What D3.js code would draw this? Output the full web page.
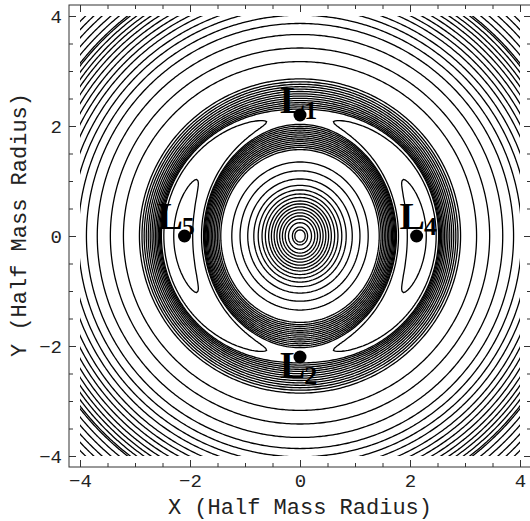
<!DOCTYPE html>
<html>
<head>
<meta charset="utf-8">
<script src="https://cdn.jsdelivr.net/npm/d3@7"></script>
<style>
    body { margin: 0; background: #fff; }
    svg { display: block; }
    .tick text { font-family: "Liberation Mono", "Courier New", monospace; font-size: 19px; fill: #222; }
    .tick line { stroke: #333; }
    .axis-title { font-family: "Liberation Mono", "Courier New", monospace; font-size: 22px; fill: #222; }
    .lp-label { font-family: "Liberation Serif", "Times New Roman", serif; font-weight: bold; fill: #000; }
</style>
</head>
<body>
<svg id="chart" width="530" height="521"></svg>
<script>
// where the contour lines cross the axes / plot edge (half mass radii)
const ringRadiiX = [0.14, 0.21, 0.27, 0.32, 0.37, 0.42, 0.47, 0.52, 0.57, 0.63, 0.69, 0.76, 0.84, 0.95, 1.09, 1.24];
const bandRadiiY = [1.57, 1.61, 1.645, 1.68, 1.715, 1.75, 1.785, 1.82, 1.855, 1.89, 1.925, 1.96, 1.995, 2.03];
const lobeRadiiX = [1.79, 1.95];
const cornerEdgeY = [3.14, 3.29, 3.44, 3.60, 3.75, 3.90];

// lagrange points
const lagrangeNames = ["1", "2", "4", "5"];
const lagrangeX = [0, 0, 2.12, -2.1];
const lagrangeY = [2.2, -2.2, 0, 0];

const majorTicks = [-4, -2, 0, 2, 4];
const minorTicks = [-4, -3.5, -3, -2.5, -2, -1.5, -1, -0.5, 0, 0.5, 1, 1.5, 2, 2.5, 3, 3.5, 4];

// plummer sphere plus a quadrupole bar along y, seen in the rotating frame
const model = {mass: 1, core: 0.77, barScale: 0.7, barStrength: 0.04};

function phi(x, y) {
    const r2 = x * x + y * y;
    const b2 = model.barScale * model.barScale;
    return -model.mass / Math.sqrt(model.core * model.core + r2)
        - model.barStrength * (y * y - x * x) / ((b2 + r2) * (b2 + r2));
}

// pattern speed from the L4 position (force balance on the x axis)
const h = 1e-4;
const omega2 = (phi(lagrangeX[2] + h, 0) - phi(lagrangeX[2] - h, 0)) / (2 * h) / lagrangeX[2];

function phiEff(x, y) {
    return phi(x, y) - 0.5 * omega2 * (x * x + y * y);
}

const levels = [].concat(
    ringRadiiX.map(r => phiEff(r, 0)),
    bandRadiiY.map(r => phiEff(0, r)),
    lobeRadiiX.map(r => phiEff(r, 0)),
    cornerEdgeY.map(v => phiEff(4, v))
);

const margin = {top: 5, left: 69};
const size = 462;

const svg = d3.select("#chart");

const x = d3.scaleLinear().domain([-4.2, 4.2]).range([margin.left, margin.left + size]);
const y = d3.scaleLinear().domain([-4.2, 4.2]).range([margin.top + size, margin.top]);

// sample the field a bit past the plotted square, clip later
const g0 = -4.4, step = 0.04;
const n = Math.round((4.4 - g0) / step) + 1;
const values = new Float64Array(n * n);
for (let j = 0; j < n; j++) {
    for (let i = 0; i < n; i++) {
        values[j * n + i] = phiEff(g0 + i * step, g0 + j * step);
    }
}

const contours = d3.contours().size([n, n]);
const proj = d3.geoTransform({
    point: function(gx, gy) {
        this.stream.point(x(g0 + (gx - 0.5) * step), y(g0 + (gy - 0.5) * step));
    }
});
const path = d3.geoPath(proj);

svg.append("clipPath")
    .attr("id", "plot-clip")
    .append("rect")
    .attr("x", x(-4))
    .attr("y", y(4))
    .attr("width", x(4) - x(-4))
    .attr("height", y(-4) - y(4));

svg.append("g")
    .attr("clip-path", "url(#plot-clip)")
    .selectAll("path")
    .data(levels.map(v => contours.contour(values, v)))
    .join("path")
    .attr("d", path)
    .attr("fill", "none")
    .attr("stroke", "#000")
    .attr("stroke-width", 1.3)
    .attr("stroke-linejoin", "round");

// frame and ticks
svg.append("rect")
    .attr("x", x(-4.2))
    .attr("y", y(4.2))
    .attr("width", size)
    .attr("height", size)
    .attr("fill", "none")
    .attr("stroke", "#333")
    .attr("stroke-width", 1);

function addAxis(axis, transform, values, len, labels) {
    const g = svg.append("g")
        .attr("transform", transform)
        .call(axis.tickValues(values).tickSize(-len).tickPadding(7).tickFormat(labels ? d3.format("d") : ""));
    g.select(".domain").remove();
    return g;
}

addAxis(d3.axisBottom(x), `translate(0,${y(-4.2)})`, minorTicks, 4, false);
addAxis(d3.axisBottom(x), `translate(0,${y(-4.2)})`, majorTicks, 7, true);
addAxis(d3.axisTop(x), `translate(0,${y(4.2)})`, minorTicks, 4, false);
addAxis(d3.axisTop(x), `translate(0,${y(4.2)})`, majorTicks, 7, false);
addAxis(d3.axisLeft(y), `translate(${x(-4.2)},0)`, minorTicks, 4, false);
addAxis(d3.axisLeft(y), `translate(${x(-4.2)},0)`, majorTicks, 7, true);
addAxis(d3.axisRight(y), `translate(${x(4.2)},0)`, minorTicks, 4, false);
addAxis(d3.axisRight(y), `translate(${x(4.2)},0)`, majorTicks, 7, false);

svg.append("text")
    .attr("class", "axis-title")
    .attr("x", x(0))
    .attr("y", 514)
    .attr("text-anchor", "middle")
    .text("X (Half Mass Radius)");

svg.append("text")
    .attr("class", "axis-title")
    .attr("transform", `translate(26,${y(0) - 11}) rotate(-90)`)
    .attr("text-anchor", "middle")
    .text("Y (Half Mass Radius)");

// lagrange points and their labels
const labelOffsets = [[-20, -2], [-20, 21], [-17, -7], [-27, -7]];

const lp = svg.append("g");
lp.selectAll("circle")
    .data(lagrangeNames)
    .join("circle")
    .attr("cx", (d, i) => x(lagrangeX[i]))
    .attr("cy", (d, i) => y(lagrangeY[i]))
    .attr("r", 6.5)
    .attr("fill", "#000");

const labels = lp.selectAll("text")
    .data(lagrangeNames)
    .join("text")
    .attr("class", "lp-label")
    .attr("x", (d, i) => x(lagrangeX[i]) + labelOffsets[i][0])
    .attr("y", (d, i) => y(lagrangeY[i]) + labelOffsets[i][1]);
labels.append("tspan").attr("font-size", 38).text("L");
labels.append("tspan").attr("font-size", 26).attr("dy", 6).attr("dx", -1).text(d => d);
</script>
</body>
</html>
